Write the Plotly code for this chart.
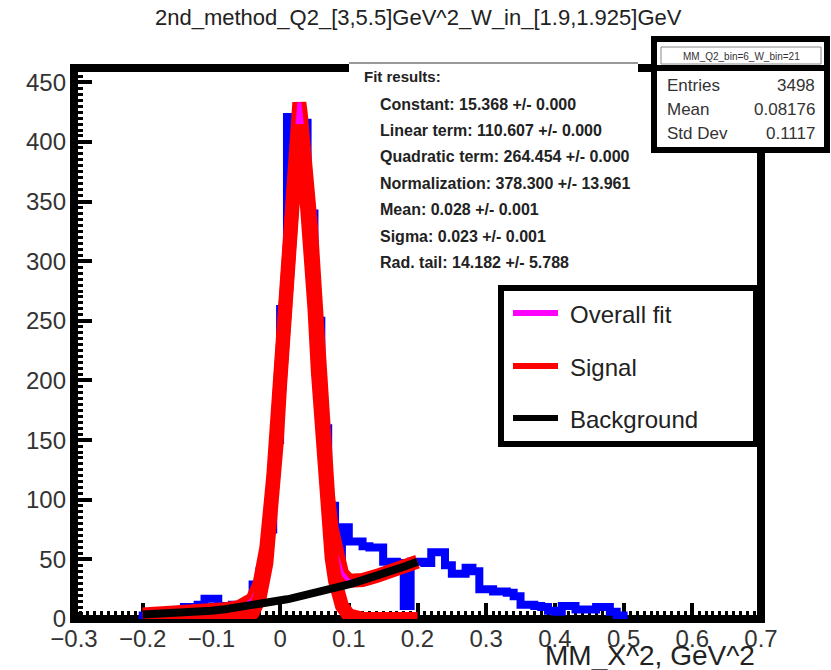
import plotly.graph_objects as go

# ---------------- data ----------------
bin_edges = [-0.20, -0.19, -0.18, -0.17, -0.16, -0.15, -0.14, -0.13, -0.12, -0.11,
             -0.10, -0.09, -0.08, -0.07, -0.06, -0.05, -0.04, -0.03, -0.02, -0.01,
             0.00, 0.01, 0.02, 0.03, 0.04, 0.05, 0.06, 0.07, 0.08, 0.09,
             0.10, 0.11, 0.12, 0.13, 0.14, 0.15, 0.16, 0.17, 0.18, 0.19,
             0.20, 0.21, 0.22, 0.23, 0.24, 0.25, 0.26, 0.27, 0.28, 0.29,
             0.30, 0.31, 0.32, 0.33, 0.34, 0.35, 0.36, 0.37, 0.38, 0.39,
             0.40, 0.41, 0.42, 0.43, 0.44, 0.45, 0.46, 0.47, 0.48, 0.49, 0.50]
hist_counts = [3, 2, 4, 3, 5, 6, 10, 10, 12, 17,
               17, 11, 9, 12, 10, 14, 29, 40, 75, 150,
               260, 421, 421, 416, 340, 250, 160, 95, 48, 77,
               65, 65, 61, 60, 60, 48, 48, 47, 11, 48,
               48, 47, 56, 56, 45, 38, 38, 43, 40, 25,
               25, 23, 23, 22, 19, 12, 12, 11, 10, 7,
               6, 11, 11, 8, 8, 8, 10, 10, 6, 3]

fit_x = [-0.2, -0.15, -0.1, -0.08, -0.06, -0.05, -0.04, -0.03, -0.02, -0.01,
         -0.005, 0.0, 0.005, 0.01, 0.015, 0.02, 0.025, 0.028, 0.03, 0.035,
         0.04, 0.045, 0.05, 0.055, 0.06, 0.065, 0.07, 0.075, 0.08, 0.09,
         0.1, 0.11, 0.12, 0.14, 0.16, 0.18, 0.2]
signal_y = [0, 0, 0, 0.01, 0.27, 1.31, 5.2, 17.1, 46.7, 105.2,
            147.2, 196.4, 249.9, 293.5, 327.9, 362.3, 393.7, 414.3, 405.1, 378.4,
            344.8, 307.1, 260.4, 206.8, 156.6, 113.0, 77.8, 51.1, 32.0, 11.0,
            3.0, 1.0, 0.2, 0, 0, 0, 0]
background_y = [3.83, 4.73, 6.95, 8.21, 9.68, 10.50, 11.37, 12.29, 13.26, 14.29,
                14.82, 15.37, 15.93, 16.50, 17.09, 17.69, 18.30, 18.67, 18.92, 19.56,
                20.22, 20.88, 21.56, 22.25, 22.96, 23.67, 24.41, 25.15, 25.91, 27.47,
                29.07, 30.74, 32.45, 36.04, 39.84, 43.85, 48.07]
overall_y = [3.83, 4.73, 6.95, 8.22, 9.95, 11.81, 16.57, 29.39, 59.96, 119.49,
             162.02, 211.77, 265.83, 310.0, 345.0, 380.0, 412.0, 433.0, 424.0, 398.0,
             365.0, 328.0, 282.0, 229.05, 179.56, 136.67, 102.21, 76.25, 57.91, 38.47,
             32.07, 31.74, 32.65, 36.04, 39.84, 43.85, 48.07]

title_text = "2nd_method_Q2_[3,5.5]GeV^2_W_in_[1.9,1.925]GeV"
x_title = "MM_X^2, GeV^2"
fit_lines = ["Constant: 15.368 +/- 0.000",
             "Linear term: 110.607 +/- 0.000",
             "Quadratic term: 264.454 +/- 0.000",
             "Normalization: 378.300 +/- 13.961",
             "Mean: 0.028 +/- 0.001",
             "Sigma: 0.023 +/- 0.001",
             "Rad. tail: 14.182 +/- 5.788"]
stats_name = "MM_Q2_bin=6_W_bin=21"
stats_rows = [("Entries", "3498"), ("Mean", "0.08176"), ("Std Dev", "0.1117")]
legend_items = [("Overall fit", "#ff00ff"), ("Signal", "#ff0000"), ("Background", "#000000")]

# ---------------- geometry helpers ----------------
W, H = 831, 670
L, R, T, B = 74, 761, 68, 619


def X(px):
    return (px - L) / (R - L)


def Y(py):
    return (B - py) / (B - T)


FONT = "Liberation Sans, Arial, sans-serif"

fig = go.Figure()

# histogram as thick step line
hx = [bin_edges[0]] + list(bin_edges) + [bin_edges[-1]]
hy = [0] + list(hist_counts) + [hist_counts[-1], 0]
fig.add_trace(go.Scatter(x=hx, y=hy, mode="lines", line=dict(shape="hv", color="#0000ff", width=8),
                         showlegend=False, hoverinfo="skip"))
# overall fit drawn thick red (ROOT fit function), magenta copy, signal, background
fig.add_trace(go.Scatter(x=fit_x, y=overall_y, mode="lines", line=dict(color="#ff0000", width=14),
                         showlegend=False, hoverinfo="skip"))
fig.add_trace(go.Scatter(x=fit_x, y=overall_y, mode="lines", line=dict(color="#ff00ff", width=4),
                         showlegend=False, hoverinfo="skip"))
fig.add_trace(go.Scatter(x=fit_x, y=signal_y, mode="lines", line=dict(color="#ff0000", width=14),
                         showlegend=False, hoverinfo="skip"))
fig.add_trace(go.Scatter(x=fit_x, y=background_y, mode="lines", line=dict(color="#000000", width=8),
                         showlegend=False, hoverinfo="skip"))

shapes = []
# frame
shapes.append(dict(type="rect", xref="paper", yref="paper", x0=0, x1=1, y0=0, y1=1,
                   line=dict(color="black", width=8), fillcolor="rgba(0,0,0,0)", layer="below"))
# fit results pave (white, covers part of top frame)
shapes.append(dict(type="rect", xref="paper", yref="paper", x0=X(349), x1=X(638), y0=Y(282), y1=Y(62),
                   line=dict(width=0), fillcolor="white", layer="above"))
shapes.append(dict(type="line", xref="paper", yref="paper", x0=X(349), x1=X(638), y0=Y(63), y1=Y(63),
                   line=dict(color="#777777", width=1.5), layer="above"))
# stats box
shapes.append(dict(type="rect", xref="paper", yref="paper", x0=X(654), x1=X(827), y0=Y(150), y1=Y(39),
                   line=dict(color="black", width=6), fillcolor="white", layer="above"))
shapes.append(dict(type="rect", xref="paper", yref="paper", x0=X(661), x1=X(821), y0=Y(64), y1=Y(47),
                   line=dict(color="#888888", width=1), fillcolor="white", layer="above"))
shapes.append(dict(type="line", xref="paper", yref="paper", x0=X(654), x1=X(827), y0=Y(68), y1=Y(68),
                   line=dict(color="black", width=6), layer="above"))
# legend box
shapes.append(dict(type="rect", xref="paper", yref="paper", x0=X(501), x1=X(756), y0=Y(444), y1=Y(288),
                   line=dict(color="black", width=6), fillcolor="white", layer="above"))
leg_y = [313, 366, 418]
for (name, col), ly in zip(legend_items, leg_y):
    shapes.append(dict(type="line", xref="paper", yref="paper", x0=X(513), x1=X(558), y0=Y(ly), y1=Y(ly),
                       line=dict(color=col, width=6), layer="above"))

ann = []
ann.append(dict(text=title_text, x=X(418), y=Y(18), xref="paper", yref="paper", showarrow=False,
                xanchor="center", yanchor="middle", font=dict(family=FONT, size=22, color="#222222")))
ann.append(dict(text=x_title, x=X(757), y=Y(655), xref="paper", yref="paper", showarrow=False,
                xanchor="right", yanchor="middle", font=dict(family=FONT, size=28, color="#222222")))
ann.append(dict(text="<b>Fit results:</b>", x=X(362), y=Y(77), xref="paper", yref="paper", showarrow=False,
                xanchor="left", yanchor="middle", font=dict(family=FONT, size=15, color="#222222")))
fit_y = [104, 130, 157, 183, 209, 236, 262]
for t, fy in zip(fit_lines, fit_y):
    ann.append(dict(text="<b>" + t + "</b>", x=X(378), y=Y(fy), xref="paper", yref="paper", showarrow=False,
                    xanchor="left", yanchor="middle", font=dict(family=FONT, size=16, color="#222222")))
ann.append(dict(text=stats_name, x=X(741), y=Y(56), xref="paper", yref="paper", showarrow=False,
                xanchor="center", yanchor="middle", font=dict(family=FONT, size=10, color="#333333")))
for (k, v), sy in zip(stats_rows, [86, 110, 134]):
    ann.append(dict(text=k, x=X(665), y=Y(sy), xref="paper", yref="paper", showarrow=False,
                    xanchor="left", yanchor="middle", font=dict(family=FONT, size=17, color="#333333")))
    ann.append(dict(text=v, x=X(817), y=Y(sy), xref="paper", yref="paper", showarrow=False,
                    xanchor="right", yanchor="middle", font=dict(family=FONT, size=17, color="#333333")))
for (name, col), ly in zip(legend_items, leg_y):
    ann.append(dict(text=name, x=X(568), y=Y(ly + 1), xref="paper", yref="paper", showarrow=False,
                    xanchor="left", yanchor="middle", font=dict(family=FONT, size=24, color="#222222")))

fig.update_layout(
    width=W, height=H,
    margin=dict(l=L, r=W - R, t=T, b=H - B, pad=0, autoexpand=False),
    paper_bgcolor="white", plot_bgcolor="white",
    showlegend=False,
    shapes=shapes, annotations=ann,
    xaxis=dict(range=[-0.3, 0.7], tick0=0, dtick=0.1, showgrid=False, zeroline=False, showline=False,
               ticks="inside", ticklen=16, tickwidth=4, tickcolor="black", layer="below traces",
               automargin=False, ticklabelstandoff=3,
               tickfont=dict(family=FONT, size=24, color="#333333"),
               minor=dict(dtick=0.01, ticks="inside", ticklen=8, tickwidth=2.5, tickcolor="black", showgrid=False)),
    yaxis=dict(range=[0, 462], tick0=0, dtick=50, showgrid=False, zeroline=False, showline=False,
               ticks="inside", ticklen=18, tickwidth=4, tickcolor="black", layer="below traces",
               automargin=False, ticklabelstandoff=7,
               tickfont=dict(family=FONT, size=24, color="#333333"),
               minor=dict(dtick=5, ticks="inside", ticklen=9, tickwidth=2.5, tickcolor="black", showgrid=False)),
)

fig.write_html("out.html", config={"displayModeBar": False},
               post_script="document.body.style.margin='0';document.body.style.overflow='hidden';")
